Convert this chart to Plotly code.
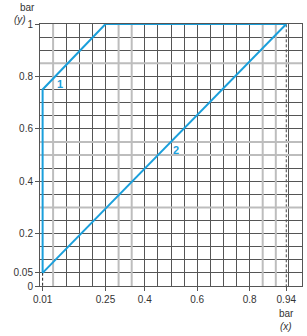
import plotly.graph_objects as go

# data
line1_x = [0.01, 0.01, 0.25, 0.94]
line1_y = [0.05, 0.75, 1.0, 1.0]
line2_x = [0.01, 0.94]
line2_y = [0.05, 1.0]
x_ticks = [0.01, 0.25, 0.4, 0.6, 0.8, 0.94]
x_tick_text = ["0.01", "0.25", "0.4", "0.6", "0.8", "0.94"]
y_ticks = [0, 0.05, 0.2, 0.4, 0.6, 0.8, 1]
y_tick_text = ["0", "0.05", "0.2", "0.4", "0.6", "0.8", "1"]
gray_x = [0.05, 0.3, 0.35, 0.85, 0.9]
gray_y = [0.3, 0.5, 0.55, 0.85]
labels = [("1", 0.078, 0.77), ("2", 0.52, 0.52)]

BLUE = "#1a9fdb"
DARK = "#555555"
TXT = "#333333"
FONT = "Liberation Sans, Arial, sans-serif"

fig = go.Figure()
fig.add_trace(go.Scatter(x=line1_x, y=line1_y, mode="lines",
                         line=dict(color=BLUE, width=2), hoverinfo="skip"))
fig.add_trace(go.Scatter(x=line2_x, y=line2_y, mode="lines",
                         line=dict(color=BLUE, width=2), hoverinfo="skip"))
# invisible trace to activate the labelled overlay axes
fig.add_trace(go.Scatter(x=[0], y=[0], xaxis="x2", yaxis="y2", mode="markers",
                         marker=dict(opacity=0), hoverinfo="skip"))

shapes = []
for gx in gray_x:
    shapes.append(dict(type="line", xref="x", yref="y", x0=gx, x1=gx, y0=0, y1=1,
                       line=dict(color="#bdbdbd", width=2), layer="between"))
for gy in gray_y:
    shapes.append(dict(type="line", xref="x", yref="y", x0=0, x1=1, y0=gy, y1=gy,
                       line=dict(color="#bdbdbd", width=2), layer="between"))
# dashed guides
shapes.append(dict(type="line", xref="x", yref="paper", x0=0.94, x1=0.94, y0=-0.005, y1=1,
                   line=dict(color="#444444", width=1, dash="3px,2px"), layer="between"))
shapes.append(dict(type="line", xref="x", yref="y", x0=0.01, x1=0.01, y0=-0.018, y1=0.05,
                   line=dict(color="#222222", width=1, dash="3px,2px"), layer="between"))
fig.update_layout(shapes=shapes)

for txt, lx, ly in labels:
    fig.add_annotation(x=lx, y=ly, text=f"<b>{txt}</b>", showarrow=False,
                       font=dict(color=BLUE, size=11, family=FONT))

fig.add_annotation(xref="paper", yref="paper", x=-0.085, y=1.0, yshift=17, yanchor="middle",
                   text="bar", showarrow=False, font=dict(size=10, color=TXT, family=FONT))
fig.add_annotation(xref="paper", yref="paper", x=-0.105, y=1.0, yshift=5, yanchor="middle",
                   text="<i>(y)</i>", showarrow=False, font=dict(size=10, color=TXT, family=FONT))
fig.add_annotation(xref="x", yref="paper", x=0.94, y=0, yshift=-27, yanchor="middle",
                   text="bar", showarrow=False, font=dict(size=10, color=TXT, family=FONT))
fig.add_annotation(xref="x", yref="paper", x=0.94, y=0, yshift=-40, yanchor="middle",
                   text="<i>(x)</i>", showarrow=False, font=dict(size=10, color=TXT, family=FONT))

grid_axis = dict(range=[0, 1], dtick=0.05, tick0=0, showgrid=True, gridcolor=DARK,
                 gridwidth=1, showticklabels=False, ticks="", zeroline=False,
                 showline=True, linecolor=DARK, linewidth=1, mirror=True)
label_axis = dict(range=[0, 1], showgrid=False, zeroline=False, showline=False,
                  ticks="outside", ticklen=4, tickcolor=DARK,
                  tickfont=dict(size=10, color=TXT, family=FONT))

fig.update_layout(
    xaxis=grid_axis,
    yaxis=grid_axis,
    xaxis2=dict(label_axis, overlaying="x", side="bottom", anchor="y2",
                tickvals=x_ticks, ticktext=x_tick_text),
    yaxis2=dict(label_axis, overlaying="y", side="left", anchor="x2",
                tickvals=y_ticks, ticktext=y_tick_text),
    width=307, height=336, margin=dict(l=40, r=5, t=24, b=50),
    plot_bgcolor="white", paper_bgcolor="white", showlegend=False,
)

fig.write_html("out.html")
